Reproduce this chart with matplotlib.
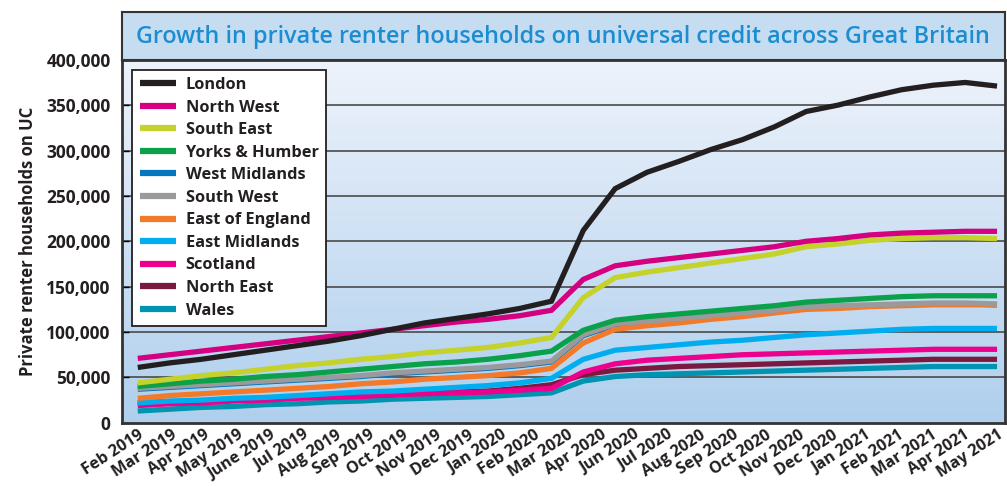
########################################################
# Required Python Packages
########################################################

import numpy as np
import matplotlib
matplotlib.use("Agg")
import matplotlib.pyplot as plt
from matplotlib.colors import LinearSegmentedColormap
from matplotlib.ticker import FuncFormatter

########################################################
# Data (thousands of households)
########################################################

month_labels = [
    "Feb 2019", "Mar 2019", "Apr 2019", "May 2019", "June 2019", "Jul 2019",
    "Aug 2019", "Sep 2019", "Oct 2019", "Nov 2019", "Dec 2019", "Jan 2020",
    "Feb 2020", "Mar 2020", "Apr 2020", "Jun 2020", "Jul 2020", "Aug 2020",
    "Sep 2020", "Oct 2020", "Nov 2020", "Dec 2020", "Jan 2021", "Feb 2021",
    "Mar 2021", "Apr 2021", "May 2021",
]

regions = [
    "London", "North West", "South East", "Yorks & Humber", "West Midlands",
    "South West", "East of England", "East Midlands", "Scotland",
    "North East", "Wales",
]

london = [61, 66, 70, 75, 80, 85, 90, 96, 103, 110, 115, 120, 126, 134,
          212, 258, 276, 288, 301, 312, 326, 343, 350, 359, 367, 372, 375, 371]
north_west = [71, 75, 79, 83, 87, 91, 95, 99, 103, 107, 111, 114, 118, 124,
              158, 173, 178, 182, 186, 190, 194, 200, 203, 207, 209, 210, 211, 211]
south_east = [44, 48, 52, 55, 59, 63, 66, 70, 73, 77, 80, 83, 88, 94,
              138, 160, 166, 171, 176, 181, 186, 194, 197, 201, 203, 204, 204, 203]
yorks_humber = [40, 43, 46, 48, 51, 53, 56, 59, 62, 65, 67, 70, 74, 79,
                102, 113, 117, 120, 123, 126, 129, 133, 135, 137, 139, 140, 140, 140]
west_midlands = [37, 39, 41, 43, 45, 47, 49, 51, 54, 56, 58, 60, 63, 67,
                 96, 108, 111, 114, 117, 120, 123, 127, 128, 129, 130, 131, 131, 130]
south_west = [38, 40, 42, 44, 46, 48, 50, 52, 55, 57, 59, 61, 64, 68,
              97, 109, 112, 115, 118, 121, 124, 128, 129, 130, 131, 132, 132, 131]
east_england = [27, 30, 32, 34, 36, 38, 40, 43, 45, 48, 50, 52, 55, 60,
                88, 103, 107, 110, 114, 117, 121, 125, 126, 128, 129, 130, 130, 130]
east_midlands = [22, 24, 25, 27, 28, 30, 32, 34, 35, 37, 39, 41, 44, 49,
                 70, 80, 83, 86, 89, 91, 94, 97, 99, 101, 103, 104, 104, 104]
scotland = [19, 21, 22, 24, 25, 27, 28, 29, 31, 32, 33, 34, 36, 38,
            56, 65, 69, 71, 73, 75, 76, 77, 78, 79, 80, 81, 81, 81]
north_east = [22, 23, 24, 25, 27, 28, 29, 30, 31, 33, 34, 35, 38, 42,
              53, 58, 60, 62, 63, 64, 65, 66, 67, 68, 69, 70, 70, 70]
wales = [13, 15, 17, 18, 20, 21, 23, 24, 26, 27, 28, 29, 31, 33,
         46, 51, 53, 54, 55, 56, 57, 58, 59, 60, 61, 62, 62, 62]

series = [london, north_west, south_east, yorks_humber, west_midlands,
          south_west, east_england, east_midlands, scotland, north_east, wales]

colors = ["#231f20", "#d4007f", "#c5d22b", "#0aa14a", "#0077c0", "#9a9a9c",
          "#f37a2a", "#00aeef", "#ec008c", "#7b1a40", "#0094b0"]

########################################################
# Figure
########################################################

plt.rcParams["font.family"] = ["Open Sans", "DejaVu Sans"]

fig = plt.figure(figsize=(10.07, 4.86), dpi=100)
ax = fig.add_axes([0.121, 0.13, 0.877, 0.747])

# background gradient
grad = LinearSegmentedColormap.from_list("bg", ["#afcfed", "#eef3fb"])
ax.imshow(np.linspace(0, 1, 256).reshape(-1, 1), cmap=grad, aspect="auto",
          extent=[-0.5, 27.25, 0, 400000], origin="lower", zorder=0)

# horizontal gridlines
for yv in range(50000, 400000, 50000):
    ax.axhline(yv, color="#4a4a4a", lw=1.2, zorder=1)

# lines: London on top, West Midlands tucked under South West
x = np.arange(len(london))
for i, (name, vals, col) in enumerate(zip(regions, series, colors)):
    z = 30 - i
    if name == "West Midlands":
        z = 10
    ax.plot(x, np.array(vals) * 1000, color=col, lw=3.8, label=name,
            zorder=z, solid_capstyle="butt", solid_joinstyle="miter")

ax.set_xlim(-0.5, 27.25)
ax.set_ylim(0, 400000)
ax.set_yticks(range(0, 400001, 50000))
ax.yaxis.set_major_formatter(FuncFormatter(lambda v, p: f"{int(v):,}"))
ax.tick_params(axis="y", direction="in", length=5, labelsize=12.5, pad=8,
               width=1)
for lab in ax.get_yticklabels():
    lab.set_fontweight("bold")
    lab.set_color("#231f20")

ax.set_xticks(np.linspace(0, 27, len(month_labels)))
ax.set_xticklabels(month_labels, rotation=33, ha="right",
                   rotation_mode="anchor", fontsize=11.6, fontweight="bold",
                   color="#231f20")
ax.tick_params(axis="x", length=0, pad=3)

ax.set_ylabel("Private renter households on UC", fontsize=12,
              fontweight="bold", color="#231f20", labelpad=7)

for sp in ax.spines.values():
    sp.set_color("#333333")
    sp.set_linewidth(2)

leg = ax.legend(loc="upper left", bbox_to_anchor=(0.012, 0.973),
                borderaxespad=0, fontsize=11.8, frameon=True, fancybox=False,
                edgecolor="#231f20", handlelength=2.2, handletextpad=0.6,
                labelspacing=0.4, borderpad=0.45)
leg.get_frame().set_linewidth(1.3)
leg.get_frame().set_facecolor("white")
leg.get_frame().set_alpha(1)
leg.set_zorder(40)
for t in leg.get_texts():
    t.set_fontweight("bold")
    t.set_color("#231f20")
for h in leg.get_lines():
    h.set_linewidth(4.5)

########################################################
# Title box
########################################################

tax = fig.add_axes([0.121, 0.877, 0.877, 0.098])
tax.set_facecolor("#c6dcf1")
tax.set_xticks([])
tax.set_yticks([])
for sp in tax.spines.values():
    sp.set_color("#333333")
    sp.set_linewidth(1.5)
tax.text(0.5, 0.48, "Growth in private renter households on universal credit across Great Britain",
         ha="center", va="center", fontsize=16.8, fontweight="semibold",
         color="#1b8dd0", transform=tax.transAxes)

fig.savefig("out.png", dpi=100)
